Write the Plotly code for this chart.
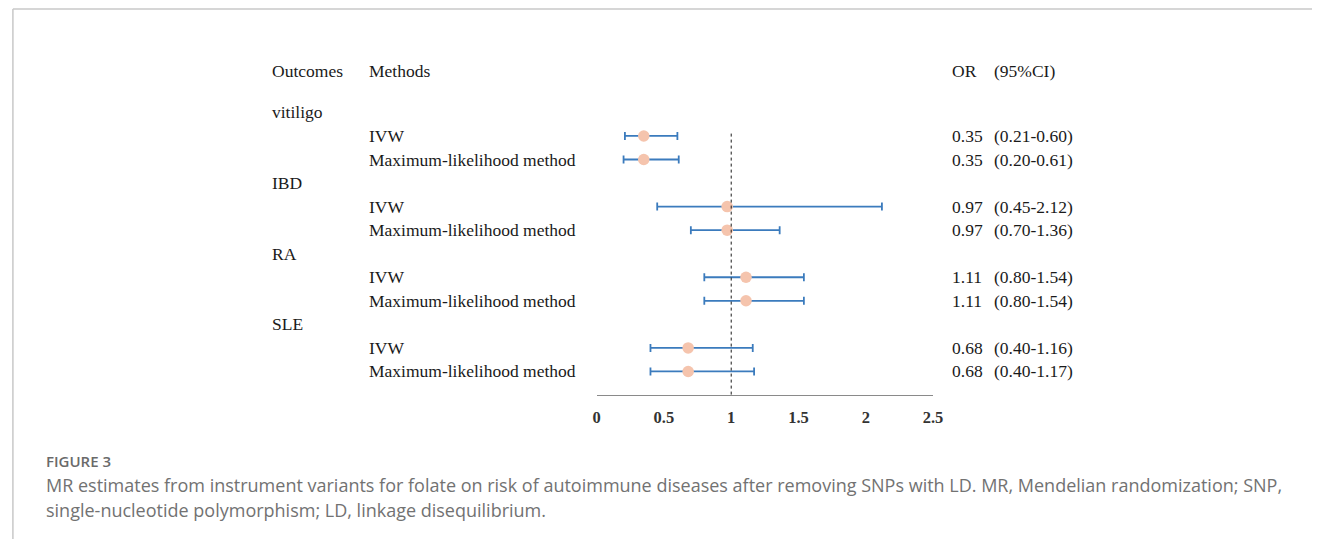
import plotly.graph_objects as go

W, H = 1322, 539

outcomes = ["vitiligo", "IBD", "RA", "SLE"]
methods = ["IVW", "Maximum-likelihood method"]
or_values = [0.35, 0.35, 0.97, 0.97, 1.11, 1.11, 0.68, 0.68]
ci_low = [0.21, 0.20, 0.45, 0.70, 0.80, 0.80, 0.40, 0.40]
ci_high = [0.60, 0.61, 2.12, 1.36, 1.54, 1.54, 1.16, 1.17]
tick_vals = [0, 0.5, 1, 1.5, 2, 2.5]
tick_text = ["0", "0.5", "1", "1.5", "2", "2.5"]
header = ["Outcomes", "Methods", "OR", "(95%CI)"]
caption_title = "FIGURE 3"
caption_lines = [
    "MR estimates from instrument variants for folate on risk of autoimmune diseases after removing SNPs with LD. MR, Mendelian randomization; SNP,",
    "single-nucleotide polymorphism; LD, linkage disequilibrium.",
]

# row positions: outcome rows and method rows
method_rows = []
outcome_rows = []
r = 1
for o in outcomes:
    outcome_rows.append(r)
    r += 1
    for m in methods:
        method_rows.append(r)
        r += 1

def px(x):
    return x / W

def py(y):
    return 1 - y / H

serif = "Liberation Serif, Times New Roman, serif"
sans = "Open Sans, Lato, sans-serif"
tc = "#1a1a1a"
fs = 17.5

fig = go.Figure()
fig.add_trace(go.Scatter(
    x=or_values, y=method_rows, mode="markers",
    marker=dict(color="#f5c4ad", size=11.5, line=dict(width=0)),
    error_x=dict(type="data", symmetric=False,
                 array=[h - v for h, v in zip(ci_high, or_values)],
                 arrayminus=[v - l for v, l in zip(or_values, ci_low)],
                 color="#3b7bbd", thickness=1.8, width=4),
    showlegend=False, hoverinfo="skip",
))

ann = []
y_header = -0.74
for txt, x in zip(header, [269, 367, 956, 999]):
    ann.append(dict(x=px(x), xref="paper", y=y_header, yref="y", text=txt,
                    showarrow=False, xanchor="left", yanchor="middle",
                    font=dict(family=serif, size=fs, color=tc)))
for o, row in zip(outcomes, outcome_rows):
    ann.append(dict(x=px(269), xref="paper", y=row, yref="y", text=o,
                    showarrow=False, xanchor="left", yanchor="middle",
                    font=dict(family=serif, size=fs, color=tc)))
for i, row in enumerate(method_rows):
    ann.append(dict(x=px(367), xref="paper", y=row, yref="y", text=methods[i % 2],
                    showarrow=False, xanchor="left", yanchor="middle",
                    font=dict(family=serif, size=fs, color=tc)))
    ann.append(dict(x=px(956), xref="paper", y=row, yref="y", text=f"{or_values[i]:.2f}",
                    showarrow=False, xanchor="left", yanchor="middle",
                    font=dict(family=serif, size=fs, color=tc)))
    ann.append(dict(x=px(999), xref="paper", y=row, yref="y",
                    text=f"({ci_low[i]:.2f}-{ci_high[i]:.2f})",
                    showarrow=False, xanchor="left", yanchor="middle",
                    font=dict(family=serif, size=fs, color=tc)))

# caption
ann.append(dict(x=px(40), xref="paper", y=py(461), yref="paper", text=caption_title,
                showarrow=False, xanchor="left", yanchor="middle",
                font=dict(family=sans, size=15, color="#6a6a6a", weight=600)))
for k, line in enumerate(caption_lines):
    ann.append(dict(x=px(40), xref="paper", y=py(485 + 25 * k), yref="paper", text=line,
                    showarrow=False, xanchor="left", yanchor="middle",
                    font=dict(family=sans, size=18, color="#727272")))

shapes = [
    dict(type="line", xref="x", yref="y", x0=1, x1=1, y0=1.9, y1=13,
         line=dict(color="#1a1a1a", width=1, dash="dot")),
    dict(type="line", xref="paper", yref="paper", x0=px(9), x1=1, y0=py(9), y1=py(9),
         line=dict(color="#c8c8c8", width=1.5)),
    dict(type="line", xref="paper", yref="paper", x0=px(9), x1=px(9), y0=py(9), y1=0,
         line=dict(color="#c8c8c8", width=1.5)),
]

row_px = 23.55
y_bottom_px = 395
y_top_px = y_bottom_px - 14 * row_px

fig.update_layout(
    width=W, height=H,
    margin=dict(l=0, r=0, t=0, b=0),
    paper_bgcolor="white", plot_bgcolor="white",
    xaxis=dict(range=[0, 2.5], domain=[px(599), px(939)],
               tickvals=tick_vals, ticktext=tick_text, ticks="",
               showgrid=False, zeroline=False, showline=True,
               linecolor="#8a8a8a", linewidth=1.2,
               ticklabelstandoff=7,
               tickfont=dict(family=serif, size=16.5, color="#333333", weight="bold")),
    yaxis=dict(range=[13, -1], domain=[py(y_bottom_px), py(y_top_px)],
               visible=False, showgrid=False, zeroline=False),
    annotations=ann, shapes=shapes,
)

fig.write_html("out.html", config={"displayModeBar": False},
               post_script="document.body.style.margin='0';")
